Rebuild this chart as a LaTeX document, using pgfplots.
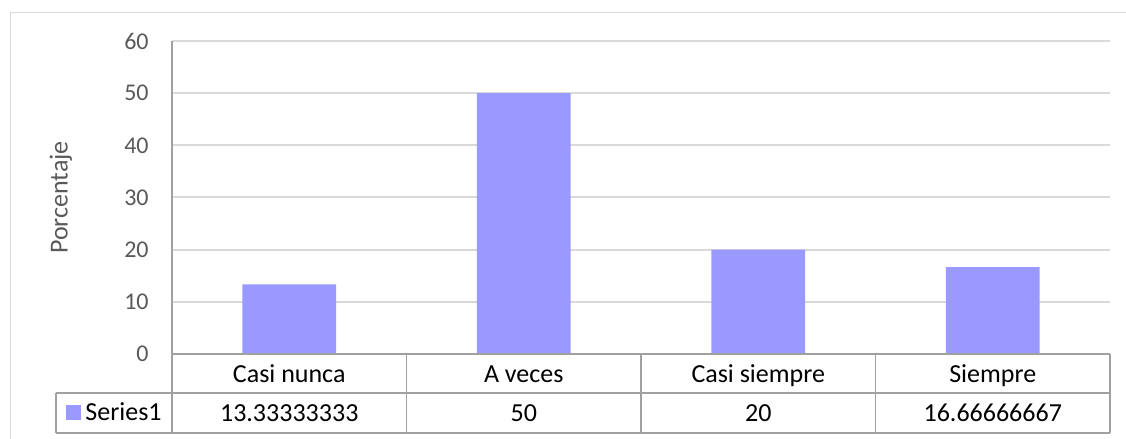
\documentclass[border=0pt]{standalone}
\usepackage{fontspec}
\setmainfont{Carlito}
\usepackage{pgfplots}
\usepackage{pgfplotstable}
\pgfplotsset{compat=1.18}

\definecolor{barcol}{HTML}{9999FF}
\definecolor{gridcol}{HTML}{D9D9D9}
\definecolor{tablecol}{HTML}{A0A0A0}
\definecolor{labelcol}{HTML}{595959}

\pgfplotstableread[col sep=comma]{
idx,cat,val
0,Casi nunca,13.33333333
1,A veces,50
2,Casi siempre,20
3,Siempre,16.66666667
}\datatable

\newcommand{\tickfont}{\fontsize{12}{14.4}\selectfont}
\newcommand{\labelfont}{\fontsize{13}{15.6}\selectfont}
\newcommand{\tablefont}{\fontsize{13}{15.6}\selectfont}

\begin{document}
\begin{tikzpicture}
\begin{axis}[
  scale only axis,
  width=469pt, height=156.5pt,
  xmin=-0.5, xmax=3.5, ymin=0, ymax=60,
  ytick={0,10,...,60}, xtick=\empty,
  /pgf/number format/assume math mode=true,
  ymajorgrids,
  major grid style={gridcol, line width=1pt},
  axis line style={draw=none},
  major tick length=0pt,
  tick label style={font=\tickfont, text=labelcol},
  yticklabel style={anchor=east, inner sep=0pt, xshift=-11.5pt},
  ylabel={Porcentaje},
  ylabel style={at={(axis description cs:-0.1183,0.5)}, anchor=center,
    font=\labelfont, text=labelcol},
  clip=false,
  legend style={at={(axis cs:-0.5255,-11.31)}, anchor=east, draw=none,
    fill=none, inner sep=0pt, font=\tablefont},
]
% bars
\addplot[ybar, bar width=0.4, bar shift=0pt, fill=barcol, draw=none,
  legend image code/.code={\fill[barcol] (-0.5pt,-3.75pt) rectangle (7pt,3.75pt);}]
  table[x=idx, y=val] {\datatable};
\addlegendentry{Series1}

% data table: category row
\addplot[draw=none, mark=none, forget plot, nodes near coords,
  point meta=explicit symbolic,
  nodes near coords style={anchor=base, inner sep=0pt, font=\tablefont, text=black}]
  table[x=idx, y expr=-5.50, meta=cat] {\datatable};
% data table: value row
\addplot[draw=none, mark=none, forget plot, nodes near coords,
  point meta=explicit symbolic,
  nodes near coords style={anchor=base, inner sep=0pt, font=\tablefont, text=black}]
  table[x=idx, y expr=-12.98, meta=val] {\datatable};

% table rules
\draw[tablecol, line width=0.75pt] (axis cs:-0.5,60) -- (axis cs:-0.5,-15.14);
\draw[tablecol, line width=0.75pt] (axis cs:-0.5,0) -- (axis cs:3.5,0);
\draw[tablecol, line width=0.75pt] (axis cs:-0.9947,-7.476) -- (axis cs:3.5,-7.476);
\draw[tablecol, line width=0.75pt] (axis cs:-0.9947,-15.14) -- (axis cs:3.5,-15.14);
\draw[tablecol, line width=0.75pt] (axis cs:-0.9947,-7.476) -- (axis cs:-0.9947,-15.14);
\draw[tablecol, line width=0.75pt] (axis cs:0.5,0) -- (axis cs:0.5,-15.14);
\draw[tablecol, line width=0.75pt] (axis cs:1.5,0) -- (axis cs:1.5,-15.14);
\draw[tablecol, line width=0.75pt] (axis cs:2.5,0) -- (axis cs:2.5,-15.14);
\draw[tablecol, line width=0.75pt] (axis cs:3.5,0) -- (axis cs:3.5,-15.14);

% chart frame
\draw[gridcol, line width=0.8pt] (axis cs:-1.1887,-25) -- (axis cs:-1.1887,65.46) -- (axis cs:4,65.46);

\coordinate (bbsw) at (axis cs:-1.2335,-16.294);
\coordinate (bbne) at (axis cs:3.5682,67.86);
\end{axis}
\pgfresetboundingbox
\path[use as bounding box] (bbsw) rectangle (bbne);
\end{tikzpicture}
\end{document}
